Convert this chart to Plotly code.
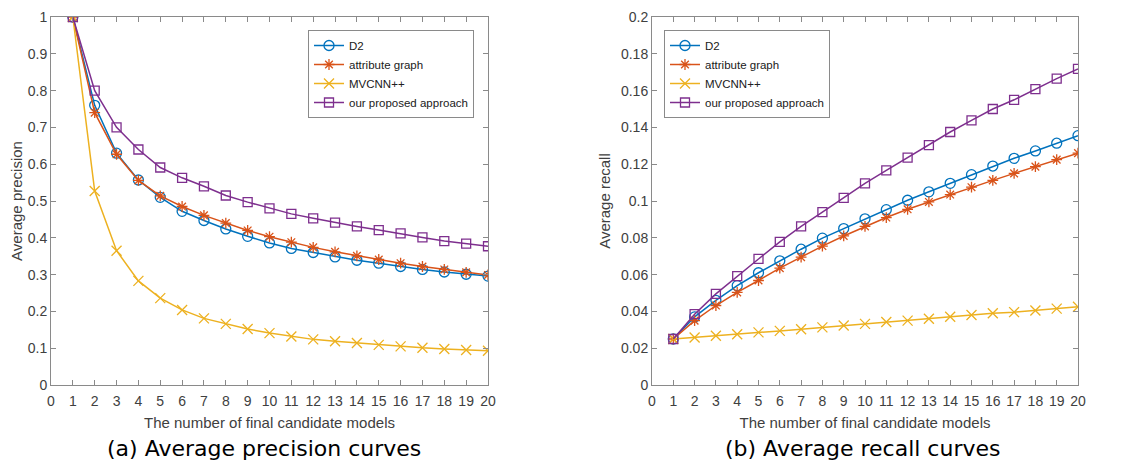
import plotly.graph_objects as go

x_models = list(range(1, 21))

prec_d2 = [1.0, 0.76, 0.63, 0.557, 0.51, 0.472, 0.447, 0.424, 0.404, 0.386, 0.371, 0.36, 0.348, 0.339, 0.331, 0.322, 0.314, 0.307, 0.301, 0.296]
prec_attr = [1.0, 0.74, 0.627, 0.556, 0.514, 0.485, 0.461, 0.44, 0.42, 0.403, 0.388, 0.374, 0.362, 0.351, 0.341, 0.331, 0.322, 0.314, 0.306, 0.299]
prec_mvcnn = [1.0, 0.527, 0.365, 0.283, 0.236, 0.204, 0.181, 0.166, 0.152, 0.141, 0.132, 0.124, 0.119, 0.114, 0.109, 0.105, 0.101, 0.098, 0.095, 0.093]
prec_ours = [1.0, 0.80, 0.70, 0.64, 0.591, 0.563, 0.54, 0.515, 0.497, 0.48, 0.465, 0.453, 0.441, 0.431, 0.421, 0.412, 0.401, 0.391, 0.384, 0.377]

rec_d2 = [0.025, 0.037, 0.046, 0.054, 0.061, 0.0675, 0.0738, 0.0798, 0.085, 0.0903, 0.0953, 0.1004, 0.105, 0.1096, 0.1143, 0.119, 0.1232, 0.1272, 0.1314, 0.1355]
rec_attr = [0.025, 0.035, 0.0432, 0.0503, 0.0568, 0.0635, 0.0695, 0.0755, 0.081, 0.0862, 0.091, 0.0955, 0.0995, 0.1035, 0.1075, 0.1112, 0.115, 0.1187, 0.1225, 0.126]
rec_mvcnn = [0.025, 0.0258, 0.0268, 0.0276, 0.0286, 0.0294, 0.0303, 0.0313, 0.0323, 0.0332, 0.0342, 0.035, 0.036, 0.0371, 0.038, 0.039, 0.0396, 0.0405, 0.0415, 0.0425]
rec_ours = [0.025, 0.0385, 0.0495, 0.0592, 0.0685, 0.0778, 0.0862, 0.094, 0.1017, 0.1096, 0.1166, 0.1236, 0.1304, 0.1375, 0.1438, 0.15, 0.155, 0.1608, 0.1665, 0.1718]

series_names = ["D2", "attribute graph", "MVCNN++", "our proposed approach"]
colors = ["#0072BD", "#D95319", "#EDB120", "#7E2F8E"]
symbols = ["circle-open", "asterisk-open", "x-thin-open", "square-open"]
sizes = [10, 9, 10, 9]

# page has an 8px body margin; figure sized so it ends at the window edge
OFF = 8
W, H = 1144 - OFF, 464 - OFF
def px(v): return (v - OFF) / W
def py(v): return (464 - v) / H

fig = go.Figure()

prec = [prec_d2, prec_attr, prec_mvcnn, prec_ours]
rec = [rec_d2, rec_attr, rec_mvcnn, rec_ours]

for i, name in enumerate(series_names):
    fig.add_trace(go.Scatter(
        x=x_models, y=prec[i], name=name, mode="lines+markers",
        line=dict(color=colors[i], width=1.5),
        marker=dict(symbol=symbols[i], size=sizes[i], color=colors[i], line=dict(width=1.3, color=colors[i])),
        xaxis="x", yaxis="y", legend="legend"))
for i, name in enumerate(series_names):
    fig.add_trace(go.Scatter(
        x=x_models, y=rec[i], name=name, mode="lines+markers",
        line=dict(color=colors[i], width=1.5),
        marker=dict(symbol=symbols[i], size=sizes[i], color=colors[i], line=dict(width=1.3, color=colors[i])),
        xaxis="x2", yaxis="y2", legend="legend2"))

axis_common = dict(
    showgrid=False, zeroline=False, showline=True, linecolor="#8a8a8a", linewidth=1,
    mirror="ticks", ticks="inside", ticklen=5, tickcolor="#8a8a8a",
    ticklabeloverflow="allow",
    tickfont=dict(family="Liberation Sans, Arial", size=14, color="#404040"),
)
title_font = dict(family="Liberation Sans, Arial", size=15, color="#404040")
legend_font = dict(family="Liberation Sans, Arial", size=11.5, color="#202020")

TOP = 17
fig.update_layout(
    width=W, height=H,
    margin=dict(l=0, r=0, t=0, b=0, autoexpand=False),
    paper_bgcolor="white", plot_bgcolor="white",
    xaxis=dict(domain=[px(51), px(488)], range=[0, 20], dtick=1, tick0=0, anchor="y",
               ticklabelstandoff=3,
               title=dict(text="The number of final candidate models", font=title_font, standoff=9), **axis_common),
    yaxis=dict(domain=[py(385), py(TOP)], range=[0, 1], dtick=0.1, tick0=0, anchor="x",
               title=dict(text="Average precision", font=title_font, standoff=6), **axis_common),
    xaxis2=dict(domain=[px(652), px(1078)], range=[0, 20], dtick=1, tick0=0, anchor="y2",
                ticklabelstandoff=3,
                title=dict(text="The number of final candidate models", font=title_font, standoff=9), **axis_common),
    yaxis2=dict(domain=[py(385), py(TOP)], range=[0, 0.2], dtick=0.02, tick0=0, anchor="x2",
                title=dict(text="Average recall", font=title_font, standoff=6), **axis_common),
    legend=dict(x=px(308), y=py(30), xanchor="left", yanchor="top",
                bordercolor="#8a8a8a", borderwidth=1, bgcolor="white",
                font=legend_font, itemwidth=30, tracegroupgap=0),
    legend2=dict(x=px(664), y=py(30), xanchor="left", yanchor="top",
                 bordercolor="#8a8a8a", borderwidth=1, bgcolor="white",
                 font=legend_font, itemwidth=30, tracegroupgap=0),
    annotations=[
        dict(text="(a) Average precision curves", x=px(264), y=py(448), xref="paper", yref="paper",
             showarrow=False, xanchor="center", yanchor="middle",
             font=dict(family="DejaVu Sans, Verdana", size=22, color="black")),
        dict(text="(b) Average recall curves", x=px(862), y=py(448), xref="paper", yref="paper",
             showarrow=False, xanchor="center", yanchor="middle",
             font=dict(family="DejaVu Sans, Verdana", size=22, color="black")),
    ],
)

fig.write_html("out.html")
